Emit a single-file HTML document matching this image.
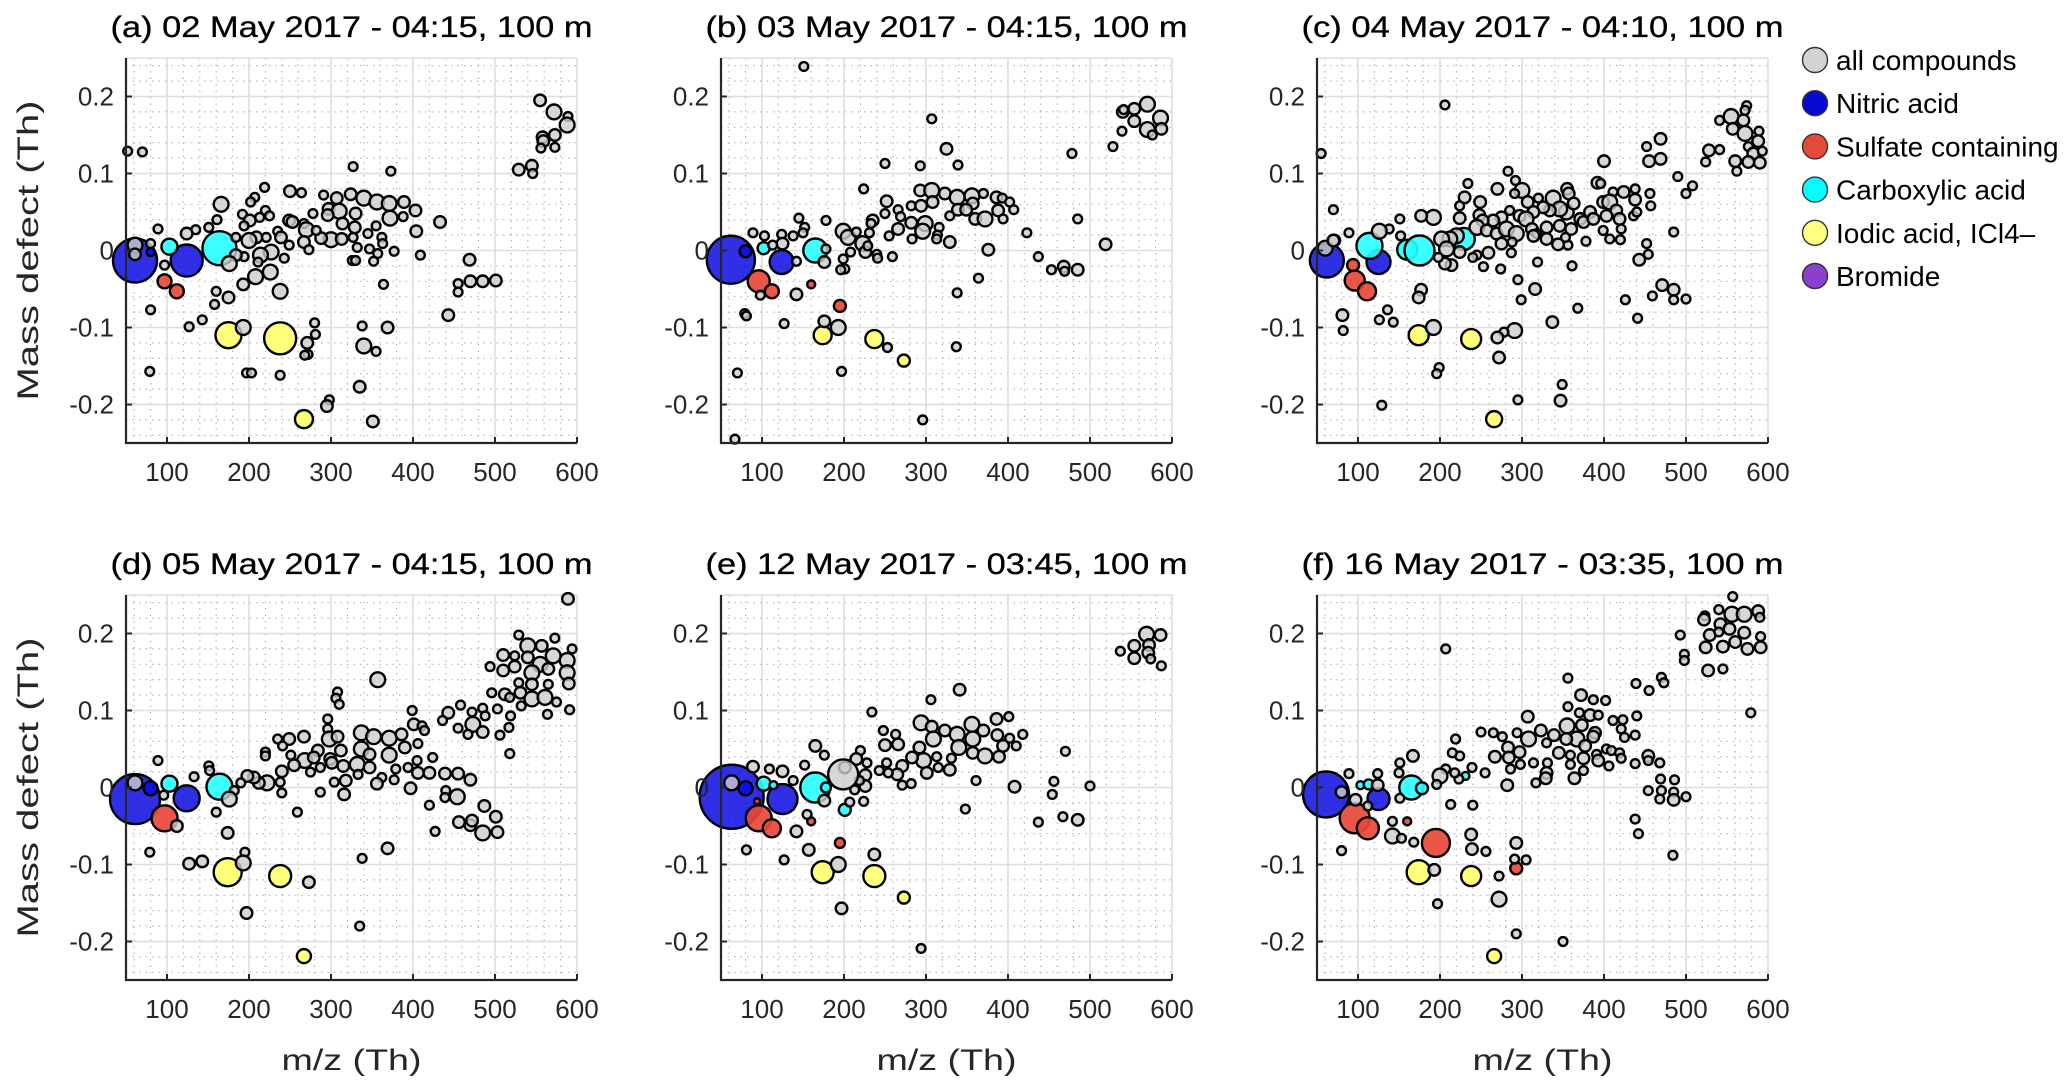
<!DOCTYPE html>
<html><head><meta charset="utf-8"><style>
html,body{margin:0;padding:0;background:#fff;}
svg{display:block;font-family:"Liberation Sans",sans-serif;}
</style></head><body>
<svg id="chart" width="2067" height="1085" viewBox="0 0 2067 1085" xmlns="http://www.w3.org/2000/svg">
<g id="legend"></g>
</svg>
<script>
const titles = ["(a) 02 May 2017 - 04:15, 100 m","(b) 03 May 2017 - 04:15, 100 m","(c) 04 May 2017 - 04:10, 100 m","(d) 05 May 2017 - 04:15, 100 m","(e) 12 May 2017 - 03:45, 100 m","(f) 16 May 2017 - 03:35, 100 m"];
const xTicks = [100,200,300,400,500,600];
const yTicks = [-0.2,-0.1,0,0.1,0.2];
const yTickLabels = ["-0.2","-0.1","0","0.1","0.2"];
const legendLabels = ["all compounds","Nitric acid","Sulfate containing","Carboxylic acid","Iodic acid, ICl4\u2013","Bromide"];
const categories = ["gray","nitric","sulfate","carboxylic","iodic","bromide"];
// gray points: [m/z, mass defect, size class 1..3]
const grayA = [[52,0.129,1],[70,0.128,1],[327,0.109,1],[373,0.103,1],[529,0.105,2],[545,0.11,2],[546,0.10,1],[555,0.195,2],[572,0.18,3],[589,0.174,1],[588,0.163,3],[558,0.147,2],[573,0.15,2],[559,0.142,2],[556,0.133,1],[573,0.134,1],[219,0.082,1],[250,0.077,2],[264,0.075,1],[291,0.072,1],[307,0.068,2],[324,0.073,2],[340,0.068,3],[356,0.063,3],[371,0.061,3],[389,0.063,2],[403,0.052,2],[372,0.042,3],[388,0.044,1],[433,0.037,2],[404,0.025,2],[409,-0.006,1],[166,0.060,3],[207,0.069,1],[202,0.063,1],[161,0.040,1],[192,0.047,1],[220,0.052,1],[225,0.045,1],[201,0.039,2],[213,0.043,1],[151,0.030,1],[135,0.027,1],[124,0.022,2],[89,0.028,1],[194,0.032,1],[235,0.025,1],[249,0.039,2],[253,0.037,2],[267,0.035,1],[270,0.027,3],[278,0.048,1],[297,0.054,2],[310,0.051,3],[330,0.048,2],[296,0.046,2],[314,0.035,2],[329,0.030,2],[345,0.022,1],[355,0.032,1],[300,0.014,3],[313,0.015,2],[288,0.016,2],[282,0.026,1],[327,0.017,1],[347,0.002,1],[362,0.017,1],[363,0.009,1],[332,0.004,1],[377,-0.001,1],[357,-0.004,1],[352,-0.014,1],[326,-0.013,1],[330,-0.013,1],[267,0.011,2],[273,0.001,1],[221,0.017,1],[209,0.017,2],[200,0.013,3],[239,0.017,2],[249,0.007,1],[227,-0.002,3],[214,-0.006,3],[211,-0.015,1],[243,-0.010,1],[226,-0.028,3],[208,-0.034,3],[194,-0.008,1],[184,-0.006,2],[184,0.017,1],[176,-0.017,3],[193,-0.044,2],[160,-0.053,1],[175,-0.061,2],[158,-0.070,1],[238,-0.053,3],[143,-0.090,1],[127,-0.099,1],[193,-0.100,3],[80,-0.077,1],[79,-0.157,1],[280,-0.094,1],[281,-0.109,1],[271,-0.120,2],[272,-0.135,1],[268,-0.136,1],[197,-0.159,1],[203,-0.159,1],[238,-0.162,1],[338,-0.098,1],[369,-0.100,2],[340,-0.124,3],[355,-0.131,1],[364,-0.044,1],[335,-0.177,2],[298,-0.194,1],[295,-0.202,2],[351,-0.222,2],[469,-0.012,2],[455,-0.043,1],[455,-0.054,1],[470,-0.040,2],[485,-0.040,2],[501,-0.039,2],[443,-0.084,2],[97,-0.019,1],[61,0.007,3],[80,0.009,1],[61,-0.005,2]];
const grayB = [[151,0.239,1],[307,0.171,1],[325,0.132,2],[339,0.111,1],[293,0.110,1],[250,0.113,1],[224,0.080,1],[478,0.126,1],[528,0.135,1],[539,0.155,1],[540,0.180,2],[541,0.183,1],[554,0.184,2],[570,0.190,3],[586,0.172,3],[554,0.168,2],[570,0.157,3],[576,0.150,1],[587,0.158,2],[485,0.041,1],[519,0.008,2],[293,0.078,2],[307,0.078,3],[323,0.074,2],[338,0.069,3],[356,0.071,3],[370,0.074,1],[386,0.069,2],[393,0.068,1],[402,0.063,1],[407,0.053,1],[357,0.061,2],[339,0.053,2],[349,0.053,2],[329,0.045,1],[360,0.041,2],[372,0.041,3],[388,0.052,2],[394,0.041,1],[252,0.064,2],[282,0.058,1],[294,0.058,2],[308,0.063,2],[266,0.053,1],[269,0.044,1],[250,0.048,1],[282,0.036,2],[299,0.035,3],[316,0.030,1],[296,0.025,3],[314,0.020,1],[313,0.015,1],[329,0.011,2],[283,0.015,1],[266,0.028,2],[255,0.019,1],[235,0.039,2],[233,0.035,1],[231,0.023,1],[199,0.025,3],[205,0.017,3],[215,0.024,1],[223,0.009,3],[226,-0.002,2],[208,-0.002,1],[229,0.006,1],[240,-0.005,1],[241,-0.010,1],[259,-0.008,1],[178,0.039,1],[145,0.042,1],[152,0.030,1],[150,0.023,1],[138,0.019,1],[124,0.021,1],[125,0.009,2],[103,0.019,1],[89,0.023,1],[113,0.007,1],[178,0.002,1],[176,-0.015,2],[142,-0.014,1],[199,-0.011,1],[201,-0.024,1],[196,-0.025,1],[376,0.001,2],[423,0.023,1],[437,-0.008,1],[453,-0.025,1],[468,-0.021,2],[469,-0.027,1],[485,-0.025,2],[364,-0.036,1],[338,-0.055,1],[337,-0.125,1],[296,-0.220,1],[98,-0.058,1],[142,-0.057,2],[79,-0.082,1],[81,-0.085,1],[127,-0.095,1],[176,-0.092,2],[193,-0.100,3],[253,-0.126,1],[197,-0.157,1],[70,-0.159,1],[67,-0.245,1]];
const grayC = [[55,0.126,1],[206,0.189,1],[400,0.116,2],[452,0.135,1],[469,0.145,2],[455,0.116,2],[469,0.119,2],[490,0.096,1],[500,0.074,1],[508,0.084,1],[524,0.115,1],[528,0.130,2],[541,0.131,1],[541,0.169,1],[555,0.174,3],[557,0.158,2],[570,0.169,2],[574,0.188,1],[572,0.182,1],[572,0.152,3],[589,0.155,1],[588,0.142,2],[576,0.135,1],[582,0.126,2],[593,0.129,1],[590,0.114,2],[576,0.115,2],[560,0.116,2],[562,0.103,1],[283,0.103,1],[292,0.091,1],[234,0.087,1],[270,0.080,2],[300,0.078,3],[291,0.074,1],[230,0.069,2],[249,0.063,2],[224,0.058,1],[248,0.046,2],[224,0.042,2],[192,0.043,3],[177,0.045,2],[151,0.041,1],[138,0.028,1],[152,0.019,1],[126,0.025,3],[89,0.023,1],[71,0.013,2],[70,0.053,1],[338,0.068,3],[355,0.080,2],[357,0.074,2],[320,0.068,1],[307,0.063,2],[392,0.088,2],[396,0.087,1],[411,0.076,1],[424,0.076,2],[438,0.080,1],[438,0.066,2],[456,0.074,1],[457,0.058,1],[399,0.063,2],[407,0.063,3],[415,0.052,2],[383,0.050,2],[371,0.041,2],[354,0.050,3],[363,0.061,2],[346,0.054,3],[334,0.052,2],[326,0.056,2],[314,0.050,2],[297,0.045,2],[305,0.041,3],[285,0.052,1],[275,0.043,2],[265,0.039,2],[252,0.039,2],[245,0.030,3],[257,0.026,2],[269,0.022,2],[281,0.028,3],[293,0.022,3],[312,0.028,2],[318,0.022,1],[330,0.030,2],[346,0.032,2],[360,0.028,2],[375,0.037,2],[387,0.041,2],[403,0.045,2],[419,0.041,2],[436,0.045,1],[440,0.050,1],[421,0.028,1],[399,0.026,1],[407,0.015,1],[420,0.014,1],[378,0.012,1],[356,0.007,1],[344,0.008,2],[353,0.017,1],[330,0.015,2],[314,0.019,2],[287,-0.003,1],[288,0.011,1],[275,0.009,2],[259,-0.003,2],[245,-0.006,1],[240,-0.009,1],[253,-0.021,1],[274,-0.024,1],[220,0.019,3],[212,0.015,3],[202,0.015,3],[208,0.002,3],[224,-0.002,2],[214,-0.019,2],[206,-0.017,2],[198,-0.009,1],[319,-0.015,1],[361,-0.020,1],[295,-0.038,1],[316,-0.050,2],[299,-0.064,1],[368,-0.075,1],[337,-0.093,2],[485,0.024,1],[452,0.009,1],[454,-0.005,1],[443,-0.012,2],[471,-0.045,2],[485,-0.051,2],[485,-0.064,1],[459,-0.059,1],[500,-0.063,1],[426,-0.064,1],[441,-0.088,1],[177,-0.051,2],[174,-0.061,2],[81,-0.084,2],[82,-0.104,1],[136,-0.077,1],[126,-0.090,1],[143,-0.093,1],[192,-0.100,3],[291,-0.104,3],[278,-0.106,1],[270,-0.113,2],[272,-0.139,2],[199,-0.152,1],[196,-0.160,1],[349,-0.174,1],[347,-0.195,2],[295,-0.194,1],[129,-0.201,1],[60,0.003,3],[70,0.013,2]];
const grayD = [[589,0.245,2],[529,0.198,1],[540,0.184,3],[557,0.184,2],[573,0.194,1],[594,0.180,1],[510,0.172,2],[524,0.171,1],[540,0.169,2],[555,0.160,3],[571,0.171,3],[588,0.165,3],[494,0.157,1],[510,0.152,2],[524,0.157,2],[545,0.149,3],[565,0.154,2],[588,0.149,3],[529,0.136,1],[545,0.134,2],[565,0.134,1],[590,0.135,2],[496,0.123,1],[512,0.121,2],[531,0.123,2],[545,0.115,3],[561,0.117,3],[575,0.111,1],[518,0.117,1],[503,0.102,1],[532,0.106,1],[564,0.095,1],[591,0.101,1],[519,0.093,1],[517,0.078,1],[506,0.068,1],[518,0.044,1],[458,0.107,1],[443,0.097,2],[472,0.098,1],[485,0.103,1],[488,0.093,1],[473,0.082,3],[455,0.077,1],[467,0.069,1],[485,0.072,2],[436,0.087,1],[357,0.140,3],[308,0.124,1],[306,0.116,1],[310,0.108,1],[296,0.089,1],[399,0.100,1],[401,0.082,2],[411,0.080,1],[414,0.074,1],[406,0.057,1],[296,0.076,1],[298,0.063,3],[308,0.066,2],[337,0.071,3],[352,0.066,3],[371,0.064,3],[386,0.069,2],[390,0.052,2],[337,0.050,3],[371,0.042,3],[347,0.043,2],[332,0.030,3],[312,0.048,2],[299,0.037,2],[284,0.048,2],[267,0.066,2],[249,0.063,2],[235,0.063,1],[241,0.054,1],[251,0.042,1],[268,0.035,3],[279,0.039,2],[287,0.026,1],[301,0.032,2],[315,0.028,2],[347,0.026,2],[362,0.013,1],[379,0.024,1],[394,0.026,1],[405,0.035,1],[406,0.019,2],[420,0.019,2],[424,0.039,1],[439,0.018,2],[455,0.018,2],[470,0.010,2],[440,-0.004,1],[454,-0.012,3],[439,-0.013,1],[420,-0.023,1],[397,-0.001,2],[377,0.010,1],[356,0.005,2],[333,0.017,1],[318,0.009,2],[316,-0.009,2],[304,0.007,1],[287,-0.006,1],[275,0.020,1],[255,0.029,2],[240,0.021,2],[238,0.007,1],[240,-0.007,1],[222,0.006,3],[212,0.006,2],[206,0.013,2],[198,0.015,2],[190,0.006,1],[182,-0.004,1],[220,0.046,1],[220,0.041,1],[151,0.028,1],[152,0.022,1],[133,0.014,1],[89,0.035,1],[176,-0.015,3],[96,-0.010,1],[160,-0.032,1],[259,-0.032,1],[112,-0.050,2],[174,-0.059,2],[79,-0.084,1],[127,-0.099,2],[143,-0.096,2],[195,-0.084,1],[193,-0.098,3],[273,-0.123,2],[197,-0.163,2],[335,-0.180,1],[338,-0.092,1],[369,-0.079,2],[427,-0.057,1],[456,-0.045,2],[470,-0.049,2],[485,-0.059,3],[487,-0.024,2],[501,-0.038,2],[503,-0.058,2],[472,-0.043,2],[61,0.006,3]];
const grayE = [[569,0.199,3],[586,0.198,2],[554,0.184,2],[572,0.185,2],[537,0.177,1],[571,0.175,2],[554,0.168,2],[574,0.167,1],[587,0.158,1],[341,0.127,2],[306,0.114,1],[234,0.098,1],[294,0.084,3],[307,0.079,2],[323,0.074,2],[338,0.069,3],[356,0.082,3],[370,0.074,2],[386,0.089,2],[401,0.092,1],[387,0.068,2],[402,0.064,1],[418,0.069,1],[410,0.054,1],[394,0.054,2],[357,0.063,3],[340,0.052,3],[357,0.045,2],[372,0.041,3],[389,0.040,2],[309,0.063,3],[292,0.052,2],[297,0.035,3],[283,0.039,2],[313,0.040,1],[331,0.038,1],[329,0.023,2],[315,0.026,1],[301,0.019,2],[271,0.028,2],[265,0.017,2],[254,0.019,1],[252,0.032,1],[250,0.055,2],[266,0.056,2],[263,0.069,1],[248,0.074,1],[243,0.022,1],[220,0.048,1],[215,0.037,2],[228,0.032,1],[226,0.016,2],[226,0.002,2],[213,-0.003,1],[219,0.009,1],[207,-0.019,1],[224,-0.018,1],[271,0.003,1],[282,0.005,1],[201,0.026,2],[199,0.017,4],[165,0.054,2],[176,0.042,1],[152,0.029,1],[138,0.009,1],[125,0.021,2],[109,0.024,1],[89,0.027,2],[176,-0.017,2],[155,-0.035,1],[142,-0.057,2],[81,-0.081,1],[127,-0.094,1],[157,-0.081,2],[193,-0.100,3],[237,-0.087,2],[197,-0.157,2],[294,-0.209,1],[361,0.009,1],[348,-0.028,1],[408,0.001,2],[470,0.047,1],[456,0.008,1],[454,-0.009,1],[500,0.002,1],[437,-0.045,1],[467,-0.038,1],[485,-0.042,2],[63,0.006,3]];
const grayF = [[557,0.248,1],[556,0.225,3],[571,0.225,3],[540,0.231,1],[523,0.223,1],[522,0.218,2],[588,0.229,2],[590,0.221,1],[542,0.212,2],[553,0.206,2],[571,0.201,2],[529,0.198,2],[540,0.202,1],[591,0.196,1],[560,0.189,2],[545,0.183,2],[575,0.180,2],[591,0.182,2],[524,0.182,2],[493,0.198,1],[498,0.173,1],[498,0.165,1],[527,0.152,2],[545,0.154,1],[579,0.097,1],[207,0.180,1],[356,0.142,1],[439,0.135,1],[455,0.126,1],[470,0.143,1],[473,0.136,1],[440,0.093,1],[438,0.068,1],[372,0.120,2],[387,0.114,1],[402,0.113,1],[356,0.105,1],[370,0.097,1],[383,0.094,2],[393,0.094,1],[307,0.092,2],[411,0.087,1],[423,0.088,1],[421,0.076,1],[425,0.065,1],[355,0.080,3],[373,0.081,2],[389,0.071,2],[387,0.066,2],[367,0.063,3],[354,0.063,2],[339,0.068,2],[323,0.074,2],[308,0.063,3],[294,0.071,1],[276,0.066,1],[265,0.071,1],[250,0.072,1],[283,0.052,2],[297,0.046,2],[267,0.040,2],[284,0.039,2],[298,0.030,1],[314,0.032,1],[286,0.024,1],[330,0.058,1],[345,0.045,2],[359,0.042,1],[377,0.054,2],[375,0.038,2],[359,0.030,1],[375,0.022,1],[364,0.012,2],[331,0.032,1],[330,0.019,2],[329,0.012,2],[317,0.006,1],[391,0.043,1],[403,0.050,1],[409,0.048,1],[419,0.045,1],[393,0.035,2],[406,0.028,1],[421,0.038,1],[438,0.031,1],[454,0.041,2],[454,0.035,1],[468,0.032,1],[469,0.011,1],[486,0.010,1],[454,-0.004,1],[468,-0.015,1],[470,-0.004,1],[485,-0.006,1],[485,-0.016,2],[500,-0.012,1],[438,-0.041,1],[442,-0.060,1],[484,-0.088,1],[282,0.003,2],[255,0.019,1],[239,0.026,1],[224,0.041,1],[215,0.045,1],[219,0.063,1],[223,0.011,1],[218,0.019,1],[207,0.024,1],[200,0.015,3],[196,0.004,1],[213,-0.022,1],[240,-0.023,1],[167,0.041,2],[151,0.032,1],[150,0.019,1],[124,0.018,1],[124,0.003,2],[89,0.018,1],[151,-0.014,1],[97,-0.016,2],[80,-0.006,2],[112,-0.024,1],[142,-0.044,1],[142,-0.063,3],[153,-0.066,1],[168,-0.071,1],[80,-0.082,1],[193,-0.107,2],[238,-0.061,2],[239,-0.080,2],[256,-0.083,1],[293,-0.072,2],[291,-0.093,1],[305,-0.094,1],[272,-0.115,1],[272,-0.145,3],[197,-0.151,1],[293,-0.190,1],[350,-0.200,1]];
// coloured compound points: [m/z, mass defect, marker radius, category index]
const colA = [[61,-0.013,22,1],[124,-0.013,16,1],[80,-0.002,4,1],[103,0.005,8,3],[164,0.003,17,3],[97,-0.040,7,2],[112,-0.053,7,2],[175,-0.110,13,4],[238,-0.114,16,4],[267,-0.219,9,4]];
const colB = [[62,-0.012,24,1],[80,-0.001,6,1],[124,-0.015,12,1],[102,0.003,6,3],[165,0.000,12,3],[96,-0.040,11,2],[112,-0.053,7,2],[160,-0.044,4,2],[195,-0.072,6,2],[174,-0.110,9,4],[237,-0.115,9,4],[273,-0.143,6,4]];
const colC = [[62,-0.013,17,1],[125,-0.015,12,1],[114,0.006,13,3],[160,0.001,10,3],[175,0.000,15,3],[229,0.015,11,3],[94,-0.019,6,2],[96,-0.039,10,2],[111,-0.053,9,2],[174,-0.110,10,4],[238,-0.115,10,4],[266,-0.219,8,4]];
const colD = [[61,-0.015,25,1],[80,-0.001,7,1],[124,-0.014,13,1],[103,0.005,8,3],[164,0.001,13,3],[97,-0.040,13,2],[174,-0.110,14,4],[238,-0.115,11,4],[267,-0.219,7,4]];
const colE = [[63,-0.012,32,1],[80,-0.001,7,1],[125,-0.015,15,1],[102,0.005,7,3],[114,0.003,4,3],[165,0.000,15,3],[178,0.000,5,3],[201,-0.029,6,3],[96,-0.040,13,2],[112,-0.053,9,2],[160,-0.044,4,2],[195,-0.072,5,2],[94,-0.018,3,2],[174,-0.110,11,4],[237,-0.115,11,4],[273,-0.143,6,4]];
const colF = [[61,-0.009,23,1],[125,-0.015,11,1],[103,0.003,4,3],[113,0.004,5,3],[165,0.000,12,3],[178,-0.001,6,3],[231,0.015,4,3],[96,-0.040,15,2],[112,-0.053,11,2],[160,-0.044,4,2],[195,-0.072,14,2],[293,-0.105,6,2],[174,-0.110,12,4],[238,-0.115,10,4],[266,-0.219,7,4]];
const grays = [grayA,grayB,grayC,grayD,grayE,grayF];
const cols = [colA,colB,colC,colD,colE,colF];

const NS="http://www.w3.org/2000/svg";
const svg=document.getElementById('chart');
const fills=["rgba(205,205,205,0.8)","rgba(10,10,225,0.85)","rgba(232,72,55,0.92)","rgba(40,255,255,0.9)","rgba(255,255,110,0.92)","rgba(140,60,205,0.9)"];
const legendFills=["#d3d3d3","#0808d0","#e24a3a","#00ffff","#ffff80","#8a3fcf"];
const graySizes=[0,4.4,5.8,7.4,15];
const X0=50,X1=600,Y0=-0.25,Y1=0.25;
const lefts=[126,721,1317], tops=[58,595], W=451, H=385;
function mk(tag,attrs,parent){const e=document.createElementNS(NS,tag);for(const k in attrs)e.setAttribute(k,attrs[k]);(parent||svg).appendChild(e);return e;}

for(let p=0;p<6;p++){
  const L=lefts[p%3], T=tops[Math.floor(p/3)];
  const sx=v=>L+(v-X0)/(X1-X0)*W;
  const sy=v=>T+H-(v-Y0)/(Y1-Y0)*H;
  const g=mk('g',{});
  
  
  for(let v=60;v<600;v+=20){ if(v%100===0)continue;
    const l=mk('line',{x1:sx(v),x2:sx(v),y1:T,y2:T+H,stroke:'#b8b8b8','stroke-width':1.2,'stroke-dasharray':'1.5 5'},g);
    
    
  }
  for(let i=-12;i<=12;i++){ const v=i*0.02; if(i%5===0)continue;
    const l=mk('line',{x1:L,x2:L+W,y1:sy(v),y2:sy(v),stroke:'#b8b8b8','stroke-width':1.2,'stroke-dasharray':'1.5 5'},g);
    
    
  }
  xTicks.forEach(v=>{const l=mk('line',{x1:sx(v),x2:sx(v),y1:T,y2:T+H,stroke:'#dedede','stroke-width':1.6},g);
    
    });
  yTicks.forEach(v=>{const l=mk('line',{x1:L,x2:L+W,y1:sy(v),y2:sy(v),stroke:'#dedede','stroke-width':1.6},g);
    
    });
  mk('line',{x1:L,x2:L+W,y1:T,y2:T,stroke:'#dedede','stroke-width':1.6},g);
  cols[p].forEach(d=>{const c=mk('circle',{cx:sx(d[0]),cy:sy(d[1]),r:d[2],fill:fills[d[3]],stroke:'#000','stroke-width':2.4},g);
    
    });
  grays[p].forEach(d=>{const c=mk('circle',{cx:sx(d[0]),cy:sy(d[1]),r:graySizes[d[2]],fill:fills[0],stroke:'#000','stroke-width':2.4},g);
    
    });
  const ax=mk('path',{d:`M${L},${T}V${T+H}H${L+W}`,fill:'none',stroke:'#262626','stroke-width':2.2},g);
  
  
  xTicks.forEach(v=>{mk('line',{x1:sx(v),x2:sx(v),y1:T+H,y2:T+H-6,stroke:'#262626','stroke-width':2},g);
    const t=mk('text',{x:sx(v),y:T+H+38,'font-size':26,'text-anchor':'middle',fill:'#262626'},g);t.textContent=v;
    
    });
  yTicks.forEach((v,i)=>{mk('line',{x1:L,x2:L+6,y1:sy(v),y2:sy(v),stroke:'#262626','stroke-width':2},g);
    const t=mk('text',{x:L-12,y:sy(v)+9,'font-size':26,'text-anchor':'end',fill:'#262626'},g);t.textContent=yTickLabels[i];
    
    });
  const tt=mk('text',{x:L+W/2,y:T-21,'font-size':30,'text-anchor':'middle',fill:'#000',stroke:'#000','stroke-width':0.3,textLength:482,lengthAdjust:'spacingAndGlyphs'},g);
  tt.textContent=titles[p];
  
  
  if(p%3===0){const yl=mk('text',{x:0,y:0,'font-size':30,'text-anchor':'middle',fill:'#262626',transform:`translate(38,${T+H/2}) rotate(-90)`,textLength:300,lengthAdjust:'spacingAndGlyphs'},g);
    yl.textContent='Mass defect (Th)';
    
    }
  if(p>=3){const xl=mk('text',{x:L+W/2,y:1070,'font-size':30,'text-anchor':'middle',fill:'#262626',textLength:140,lengthAdjust:'spacingAndGlyphs'},g);
    xl.textContent='m/z (Th)';
    
    }
}
const lg=document.getElementById('legend');
svg.appendChild(lg);
legendLabels.forEach((s,i)=>{const y=60+i*43.2;
  const c=mk('circle',{cx:1815,cy:y,r:12.5,fill:legendFills[i],stroke:'#333','stroke-width':1.4},lg);
  
  
  const t=mk('text',{x:1836,y:y+10,'font-size':28,fill:'#000'},lg);t.textContent=s;
  
  });
</script>
</body></html>
